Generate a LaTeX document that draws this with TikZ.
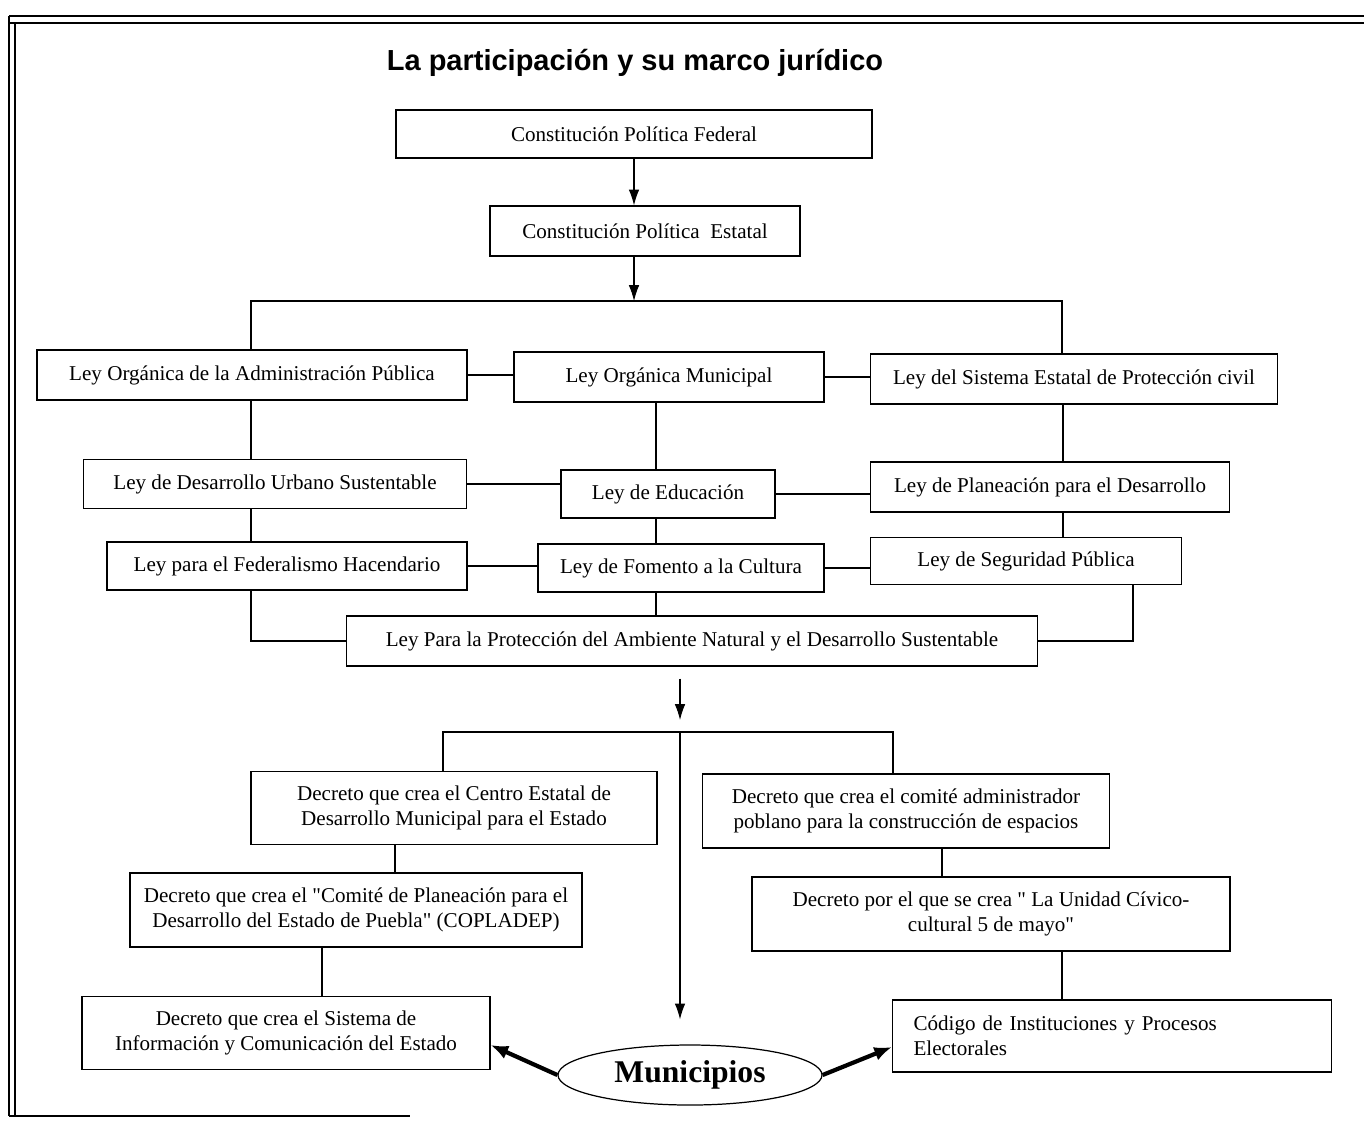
\documentclass[tikz,border=0pt]{standalone}
\usepackage{fontspec}
\setmainfont{Liberation Serif}
\newfontfamily\titlefont{Liberation Sans}
\usetikzlibrary{positioning,shapes,arrows.meta}

\begin{document}
\begin{tikzpicture}[x=0.02cm,y=-0.02cm,
	box/.style 2 args={draw,line width=0.7pt,minimum width=#1*0.02cm,minimum height=#2*0.02cm,inner sep=2pt,align=center,font=\fontsize{12}{14.2}\selectfont},
	link/.style={line width=0.6pt},
	arr/.style={line width=0.6pt,-{Latex[length=9pt,width=6pt]}},
	bigarr/.style={line width=2.4pt,-{Latex[length=10pt,width=8pt]}}]
	\useasboundingbox (0,0) rectangle (1364,1120);
	
	% frame
	\draw[line width=1pt] (9,16) -- (1364,16) (9,23) -- (1364,23);
	\draw[line width=1pt] (9,16) -- (9,1116) (15,23) -- (15,1116);
	\draw[line width=1pt] (9,1116) -- (410,1116);
	
	\node[font=\titlefont\bfseries\fontsize{16.5}{19}\selectfont] (title) at (635,63) {La participación y su marco jurídico};
	
	\node[box={476}{48}] (cpf) at (634,134) {Constitución Política Federal};
	\node[box={310}{50}] (cpe) at (645,231) {Constitución Política\ \ Estatal};
	
	\node[box={430}{50}] (loap) at (252,375) {Ley Orgánica de la Administración Pública};
	\node[box={310}{50}] (lom) at (669,377) {Ley Orgánica Municipal};
	\node[box={407}{50}] (lsepc) at (1074,379) {Ley del Sistema Estatal de Protección civil};
	
	\node[box={383}{49}] (ldus) at (275,484) {Ley de Desarrollo Urbano Sustentable};
	\node[box={214}{48}] (le) at (668,494) {Ley de Educación};
	\node[box={359}{50}] (lpd) at (1050,487) {Ley de Planeación para el Desarrollo};
	
	\node[box={360}{48}] (lpfh) at (287,566) {Ley para el Federalismo Hacendario};
	\node[box={286}{48}] (lfc) at (681,568) {Ley de Fomento a la Cultura};
	\node[box={311}{47}] (lsp) at (1026,561) {Ley de Seguridad Pública};
	
	\node[box={691}{50}] (lpands) at (692,641) {Ley Para la Protección del Ambiente Natural y el Desarrollo Sustentable};
	
	\node[box={406}{73}] (dcedm) at (454,808) {Decreto que crea el Centro Estatal de\\Desarrollo Municipal para el Estado};
	\node[box={407}{74}] (dccap) at (906,811) {Decreto que crea el comité administrador\\poblano para la construcción de espacios};
	\node[box={452}{74}] (dcped) at (356,910) {Decreto que crea el \textquotedbl Comité de Planeación para el\\Desarrollo del Estado de Puebla\textquotedbl{} (COPLADEP)};
	\node[box={478}{74}] (ducc) at (991,914) {Decreto por el que se crea \textquotedbl{} La Unidad Cívico-\\cultural 5 de mayo\textquotedbl};
	\node[box={408}{73}] (dsice) at (286,1033) {Decreto que crea el Sistema de\\Información y Comunicación del Estado};
	\node[box={439}{72},align=left,text width=397*0.02cm,inner xsep=21*0.02cm] (cipe) at (1112,1036) {Código de Instituciones y Procesos\\Electorales};
	
	\node[draw,ellipse,line width=0.7pt,minimum width=264*0.02cm,minimum height=60*0.02cm,inner sep=0pt,font=\bfseries\fontsize{18}{20}\selectfont] (mun) at (690,1075) {Municipios};
	
	\coordinate (s1) at (634,301);
	\coordinate (r1) at (1062,301);
	\coordinate (cL) at (251,0);
	\coordinate (cM) at (656,0);
	\coordinate (cR) at (1063,0);
	\coordinate (cR2) at (1133,0);
	\coordinate (s2) at (680,732);
	\coordinate (d1) at (443,0);
	\coordinate (d2) at (893,0);
	\coordinate (e1) at (395,0);
	\coordinate (e2) at (942,0);
	\coordinate (f1) at (322,0);
	\coordinate (f2) at (1062,0);
	
	\draw[arr] (cpf.south) -- (cpf.south |- cpe.north);
	\draw[arr] (cpe.south -| s1) -- (s1);
	\draw[link] (loap.north -| cL) |- (s1) -| (lsepc.north -| r1);
	
	\draw[link] (loap.east) -- (loap.east -| lom.west);
	\draw[link] (lom.east) -- (lom.east -| lsepc.west);
	\draw[link] (ldus.east) -- (ldus.east -| le.west);
	\draw[link] (le.east) -- (le.east -| lpd.west);
	\draw[link] (lpfh.east) -- (lpfh.east -| lfc.west);
	\draw[link] (lfc.east) -- (lfc.east -| lsp.west);
	
	\draw[link] (loap.south -| cL) -- (ldus.north -| cL);
	\draw[link] (ldus.south -| cL) -- (lpfh.north -| cL);
	\draw[link] (lom.south -| cM) -- (le.north -| cM);
	\draw[link] (le.south -| cM) -- (lfc.north -| cM);
	\draw[link] (lfc.south -| cM) -- (lpands.north -| cM);
	\draw[link] (lsepc.south -| cR) -- (lpd.north -| cR);
	\draw[link] (lpd.south -| cR) -- (lsp.north -| cR);
	\draw[link] (lpfh.south -| cL) |- (lpands.west);
	\draw[link] (lpands.east) -| (lsp.south -| cR2);
	
	\draw[arr,shorten <=0.24cm,shorten >=0.24cm] (lpands.south -| s2) -- (s2);
	\draw[link] (dcedm.north -| d1) |- (s2) -| (dccap.north -| d2);
	\draw[arr,shorten >=0.5cm] (s2) -- (mun.north -| s2);
	
	\draw[link] (dcedm.south -| e1) -- (dcped.north -| e1);
	\draw[link] (dccap.south -| e2) -- (ducc.north -| e2);
	\draw[link] (dcped.south -| f1) -- (dsice.north -| f1);
	\draw[link] (ducc.south -| f2) -- (cipe.north -| f2);
	
	\draw[bigarr] (mun.west) -- ([yshift=-0.24cm]dsice.east);
	\draw[bigarr] (mun.east) -- ([yshift=-0.22cm]cipe.west);
	
\end{tikzpicture}
\end{document}
